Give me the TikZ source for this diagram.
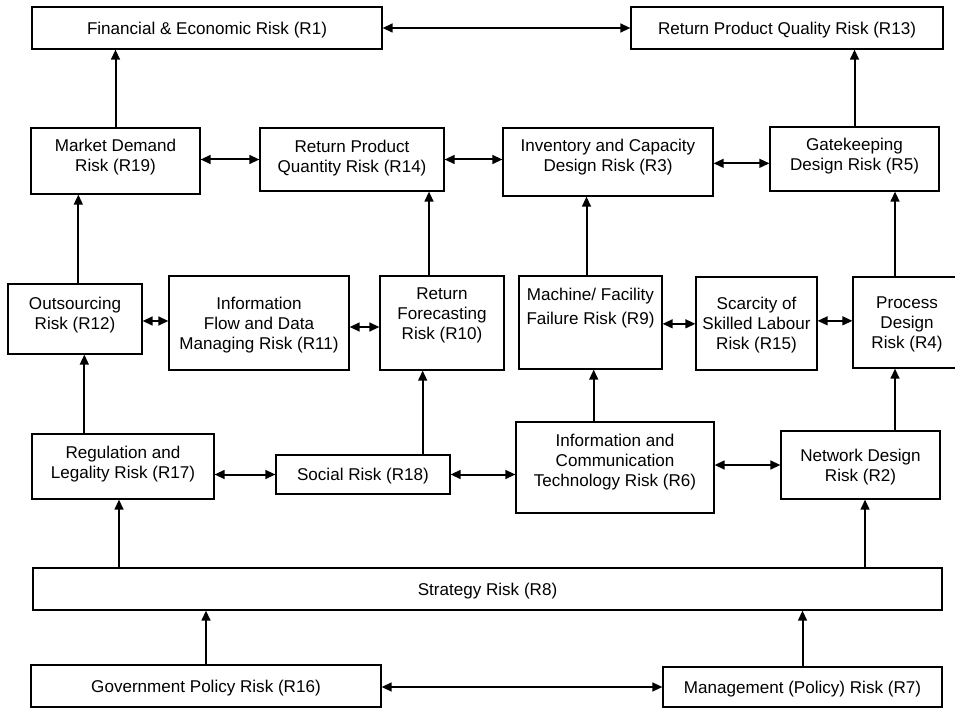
\documentclass[tikz,border=0pt]{standalone}
\usepackage{fontspec}
\setmainfont{Liberation Sans}
\usepackage{tikz}
\usetikzlibrary{arrows.meta, positioning, calc}

\begin{document}
\begin{tikzpicture}[>={Triangle[length=7.5pt,width=6.5pt]}, x=0.75pt, y=-0.75pt,
        riskbox/.style={draw=black, line width=0.8pt, align=center, inner sep=2pt,
            text depth=0pt, font=\fontsize{12.8}{15}\selectfont},
        link/.style={line width=1.5pt}]
    \useasboundingbox (0,0) rectangle (955,709);
    % top row
    \node (R1) [riskbox, minimum width=262.5pt, minimum height=31.5pt] at (207,28) {Financial \& Economic Risk (R1)};
    \node (R13) [riskbox, minimum width=234pt, minimum height=31.5pt] at (787,28) {Return Product Quality Risk (R13)};
    % second row
    \node (R19) [riskbox, minimum width=126.75pt, minimum height=49.5pt] at (115.5,161) {Market Demand\\Risk (R19)\\[-6.6pt]\mbox{}};
    \node (R14) [riskbox, minimum width=138pt, minimum height=47.25pt] at (352,159.5) {Return Product\\Quantity Risk (R14)\\[-10.5pt]\mbox{}};
    \node (R3) [riskbox, minimum width=157.5pt, minimum height=51pt] at (608,162) {Inventory and Capacity\\Design Risk (R3)\\[-5.4pt]\mbox{}};
    \node (R5) [riskbox, minimum width=126.75pt, minimum height=48pt] at (854.5,159) {Gatekeeping\\Design Risk (R5)\\[-7.5pt]\mbox{}};
    % middle row
    \node (R12) [riskbox, minimum width=100.5pt, minimum height=52.5pt] at (75,319) {Outsourcing\\Risk (R12)\\[-6.3pt]\mbox{}};
    \node (R11) [riskbox, minimum width=135pt, minimum height=70.5pt] at (259,323) {Information\\Flow and Data\\Managing Risk (R11)};
    \node (R10) [riskbox, minimum width=93pt, minimum height=70.5pt] at (442,323) {Return\\Forecasting\\Risk (R10)\\[-0.6pt]\mbox{}};
    \node (R9) [riskbox, minimum width=107.25pt, minimum height=69.75pt] at (590.5,322.5) {Machine/ Facility\\[2.5pt]Failure Risk (R9)\\[9.1pt]\mbox{}};
    \node (R15) [riskbox, minimum width=90.75pt, minimum height=69.75pt] at (756.5,323.5) {Scarcity of\\Skilled Labour\\Risk (R15)};
    \node (R4) [riskbox, minimum width=81pt, minimum height=68.25pt] at (907,322.5) {Process\\Design\\Risk (R4)};
    % fourth row
    \node (R17) [riskbox, minimum width=136.5pt, minimum height=48.75pt] at (123,466.5) {Regulation and\\Legality Risk (R17)\\[-9pt]\mbox{}};
    \node (R18) [riskbox, minimum width=130.5pt, minimum height=29.25pt] at (363,474.5) {Social Risk (R18)};
    \node (R6) [riskbox, minimum width=148.5pt, minimum height=68.25pt] at (615,467.5) {Information and\\Communication\\Technology Risk (R6)\\[-3.6pt]\mbox{}};
    \node (R2) [riskbox, minimum width=119.25pt, minimum height=51pt] at (860.5,465) {Network Design\\Risk (R2)};
    % bottom
    \node (R8) [riskbox, minimum width=681.75pt, minimum height=31.5pt] at (487.5,589) {Strategy Risk (R8)};
    \node (R16) [riskbox, minimum width=262.5pt, minimum height=31.5pt] at (206,686) {Government Policy Risk (R16)};
    \node (R7) [riskbox, minimum width=209.25pt, minimum height=30pt] at (802.5,687) {Management (Policy) Risk (R7)};

    % links
    \draw [<->, link] (R1) -- (R13);
    \draw [->, link] (R19.north) -- (R19.north |- R1.south);
    \draw [->, link] (R5.north) -- (R5.north |- R13.south);
    \draw [<->, link] (R14.west -| R19.east) -- (R14.west);
    \draw [<->, link] (R14.east) -- (R14.east -| R3.west);
    \draw [<->, link] ([yshift=-1pt]R3.east) -- ([yshift=-1pt]R3.east -| R5.west);
    \draw [->, link] ([xshift=2.5pt]R12.north) -- ([xshift=2.5pt]R12.north |- R19.south);
    \draw [->, link] ([xshift=-9.75pt]R10.north) -- ([xshift=-9.75pt]R10.north |- R14.south);
    \draw [->, link] ([xshift=-3pt]R9.north) -- ([xshift=-3pt]R9.north |- R3.south);
    \draw [->, link] ([xshift=-9pt]R4.north) -- ([xshift=-9pt]R4.north |- R5.south);
    \draw [<->, link] ([yshift=-1.5pt]R12.east) -- ([yshift=-1.5pt]R12.east -| R11.west);
    \draw [<->, link] ([yshift=-3pt]R11.east) -- ([yshift=-3pt]R11.east -| R10.west);
    \draw [<->, link] ([yshift=-1pt]R9.east) -- ([yshift=-1pt]R9.east -| R15.west);
    \draw [<->, link] ([yshift=2pt]R15.east) -- ([yshift=2pt]R15.east -| R4.west);
    \draw [->, link] ([xshift=7pt]R12.south |- R17.north) -- ([xshift=7pt]R12.south);
    \draw [->, link] ([xshift=-14.5pt]R10.south |- R18.north) -- ([xshift=-14.5pt]R10.south);
    \draw [->, link] ([xshift=2.4pt]R9.south |- R6.north) -- ([xshift=2.4pt]R9.south);
    \draw [->, link] ([xshift=-9pt]R4.south |- R2.north) -- ([xshift=-9pt]R4.south);
    \draw [<->, link] (R18.west -| R17.east) -- (R18.west);
    \draw [<->, link] (R18.east) -- (R18.east -| R6.west);
    \draw [<->, link] (R2.west -| R6.east) -- (R2.west);
    \draw [->, link] ([xshift=-3pt]R17.south |- R8.north) -- ([xshift=-3pt]R17.south);
    \draw [->, link] ([xshift=3.4pt]R2.south |- R8.north) -- ([xshift=3.4pt]R2.south);
    \draw [->, link] (R16.north) -- (R16.north |- R8.south);
    \draw [->, link] (R7.north) -- (R7.north |- R8.south);
    \draw [<->, link] (R7.west -| R16.east) -- (R7.west);
\end{tikzpicture}
\end{document}
